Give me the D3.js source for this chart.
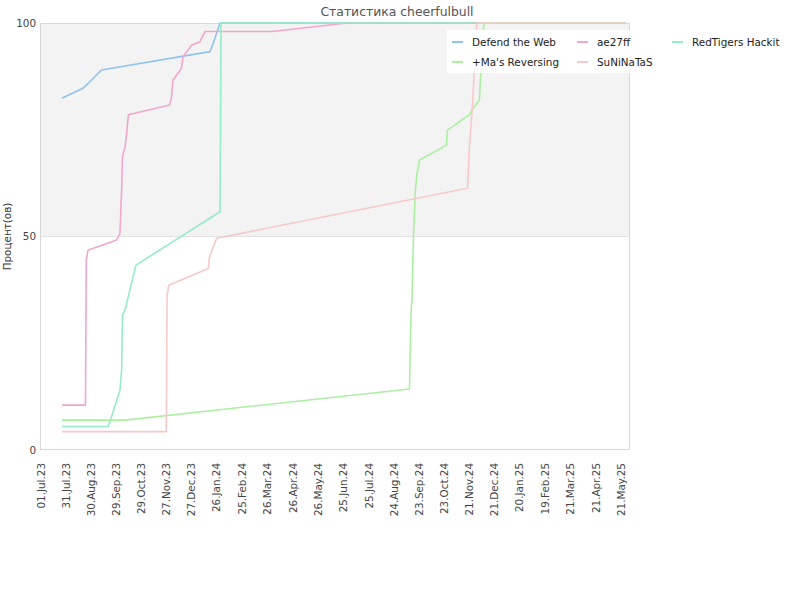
<!DOCTYPE html>
<html><head><meta charset="utf-8">
<script src="https://cdn.jsdelivr.net/npm/d3@7"></script>
<style>body{margin:0;background:#fff}svg{display:block;font-family:"DejaVu Sans",sans-serif}</style>
</head><body><svg id="c" width="800" height="600"></svg>
<script>
const titleText = "Статистика cheerfulbull";
const yTitle = "Процент(ов)";
const seriesNames = ["Defend the Web", "ae27ff", "RedTigers Hackit", "+Ma's Reversing", "SuNiNaTaS"];
const seriesColors = ["#90c2f0", "#f2a6cc", "#96ebc8", "#aaf0a0", "#f8c8c8"];
const xTickLabels = ["01.Jul.23","31.Jul.23","30.Aug.23","29.Sep.23","29.Oct.23","27.Nov.23","27.Dec.23","26.Jan.24","25.Feb.24","26.Mar.24","26.Apr.24","26.May.24","25.Jun.24","25.Jul.24","24.Aug.24","23.Sep.24","23.Oct.24","21.Nov.24","21.Dec.24","20.Jan.25","19.Feb.25","21.Mar.25","21.Apr.25","21.May.25"];
const yTicks = [0, 50, 100];
const xDomain = ["2023-07-01", "2025-06-01"];

const defendDates = ["2023-07-27","2023-08-21","2023-08-31","2023-09-12","2024-01-19","2024-01-22","2024-01-30","2024-01-31","2025-05-27"];
const defendValues = [82.4,84.7,86.6,89.0,93.3,94.8,99.5,100,100];

const ae27ffDates = ["2023-07-27","2023-08-24","2023-08-25","2023-08-27","2023-09-30","2023-10-04","2023-10-06","2023-10-07","2023-10-10","2023-10-12","2023-10-14","2023-12-02","2023-12-04","2023-12-06","2023-12-16","2023-12-18","2023-12-28","2024-01-07","2024-01-13","2024-04-02","2024-06-30","2025-05-27"];
const ae27ffValues = [10.5,10.5,44.5,46.8,49.2,50.7,60.9,68.7,71.0,74.2,78.5,80.8,82.4,86.6,89.4,92.1,94.8,95.6,98.0,98.0,100,100];

const redTigersDates = ["2023-07-27","2023-09-20","2023-09-24","2023-10-04","2023-10-06","2023-10-07","2023-10-10","2023-10-23","2024-01-31","2024-02-01","2025-05-27"];
const redTigersValues = [5.5,5.5,7.8,14.0,18.7,31.6,32.8,43.3,55.8,100,100];

const masDates = ["2023-07-27","2023-10-10","2024-09-12","2024-09-13","2024-09-14","2024-09-15","2024-09-16","2024-09-17","2024-09-19","2024-09-21","2024-09-24","2024-10-26","2024-10-27","2024-11-22","2024-11-28","2024-12-04","2024-12-06","2024-12-08","2024-12-10","2025-05-27"];
const masValues = [7.0,7.0,14.3,25.0,32.8,35.5,44.5,51.5,60.9,64.8,67.9,71.4,74.9,78.5,80.4,82.0,89.0,97.6,100,100];

const suniDates = ["2023-07-27","2023-11-28","2023-11-29","2023-12-01","2024-01-17","2024-01-18","2024-01-23","2024-01-27","2024-11-20","2024-11-22","2024-11-26","2024-11-29","2024-12-01","2025-05-27"];
const suniValues = [4.3,4.3,36.3,38.6,42.5,44.9,47.6,49.6,61.3,70.3,81.2,93.0,100,100];

const parse = d3.timeParse("%Y-%m-%d");
const parseTick = d3.timeParse("%d.%b.%y");
const fmtTick = d3.timeFormat("%d.%b.%y");

const seriesDates = [defendDates, ae27ffDates, redTigersDates, masDates, suniDates];
const seriesValues = [defendValues, ae27ffValues, redTigersValues, masValues, suniValues];
const series = seriesNames.map((n, i) => ({
  name: n, color: seriesColors[i],
  pts: seriesDates[i].map((d, j) => ({d: parse(d), v: seriesValues[i][j]}))
}));

const svg = d3.select("#c");
const L = 40, R = 630, T = 23, B = 450;
const x = d3.scaleTime().domain(xDomain.map(parse)).range([L, R]);
const y = d3.scaleLinear().domain([0, 100]).range([B, T]);
const FS = 10.4;

svg.append("rect").attr("x", L).attr("y", y(100)).attr("width", R - L).attr("height", y(50) - y(100)).attr("fill", "#f3f3f3");
svg.append("line").attr("x1", L).attr("x2", R).attr("y1", y(50)).attr("y2", y(50)).attr("stroke", "#e2e2e2");
svg.append("rect").attr("x", L + 0.5).attr("y", T + 0.5).attr("width", R - L - 1).attr("height", B - T - 1)
  .attr("fill", "none").attr("stroke", "#d8d8d8");

svg.append("text").attr("x", 397).attr("y", 16).attr("text-anchor", "middle")
  .attr("font-size", 12.4).attr("fill", "#555").text(titleText);

const yAxis = svg.append("g").attr("transform", `translate(${L},0)`)
  .call(d3.axisLeft(y).tickValues(yTicks).tickSize(0).tickPadding(4));
yAxis.select(".domain").remove();
yAxis.selectAll("text").attr("font-size", FS).attr("fill", "#444").attr("font-family", "DejaVu Sans");
svg.append("text").attr("transform", `translate(11,${(T + B) / 2}) rotate(-90)`)
  .attr("text-anchor", "middle").attr("font-size", FS).attr("fill", "#333").text(yTitle);

const xAxis = svg.append("g").attr("transform", `translate(0,${B})`)
  .call(d3.axisBottom(x).tickValues(xTickLabels.map(parseTick)).tickFormat(fmtTick).tickSize(0));
xAxis.select(".domain").remove();
xAxis.selectAll("text").attr("font-size", FS).attr("fill", "#444").attr("font-family", "DejaVu Sans")
  .attr("text-anchor", "end").attr("x", 0).attr("y", 0).attr("dx", 0).attr("dy", 0)
  .attr("transform", "translate(4,13) rotate(-90)");

const line = d3.line().x(p => x(p.d)).y(p => y(p.v));
svg.append("g").selectAll("path").data(series).join("path")
  .attr("d", s => line(s.pts)).attr("fill", "none").attr("stroke", s => s.color)
  .attr("stroke-width", 1.6).attr("stroke-linejoin", "round");

const lg = svg.append("g");
lg.append("rect").attr("x", 447).attr("y", 30).attr("width", 340).attr("height", 43).attr("fill", "#fff");
const colX = [452, 577, 672];
const rowY = [42, 62];
const legPos = [[0,0],[1,0],[2,0],[0,1],[1,1]];
series.forEach((s, i) => {
  const [c, r] = legPos[i];
  lg.append("line").attr("x1", colX[c]).attr("x2", colX[c] + 11).attr("y1", rowY[r]).attr("y2", rowY[r])
    .attr("stroke", s.color).attr("stroke-width", 2);
  lg.append("text").attr("x", colX[c] + 20).attr("y", rowY[r] + 4).attr("font-size", FS).attr("fill", "#222").text(s.name);
});
</script></body></html>
